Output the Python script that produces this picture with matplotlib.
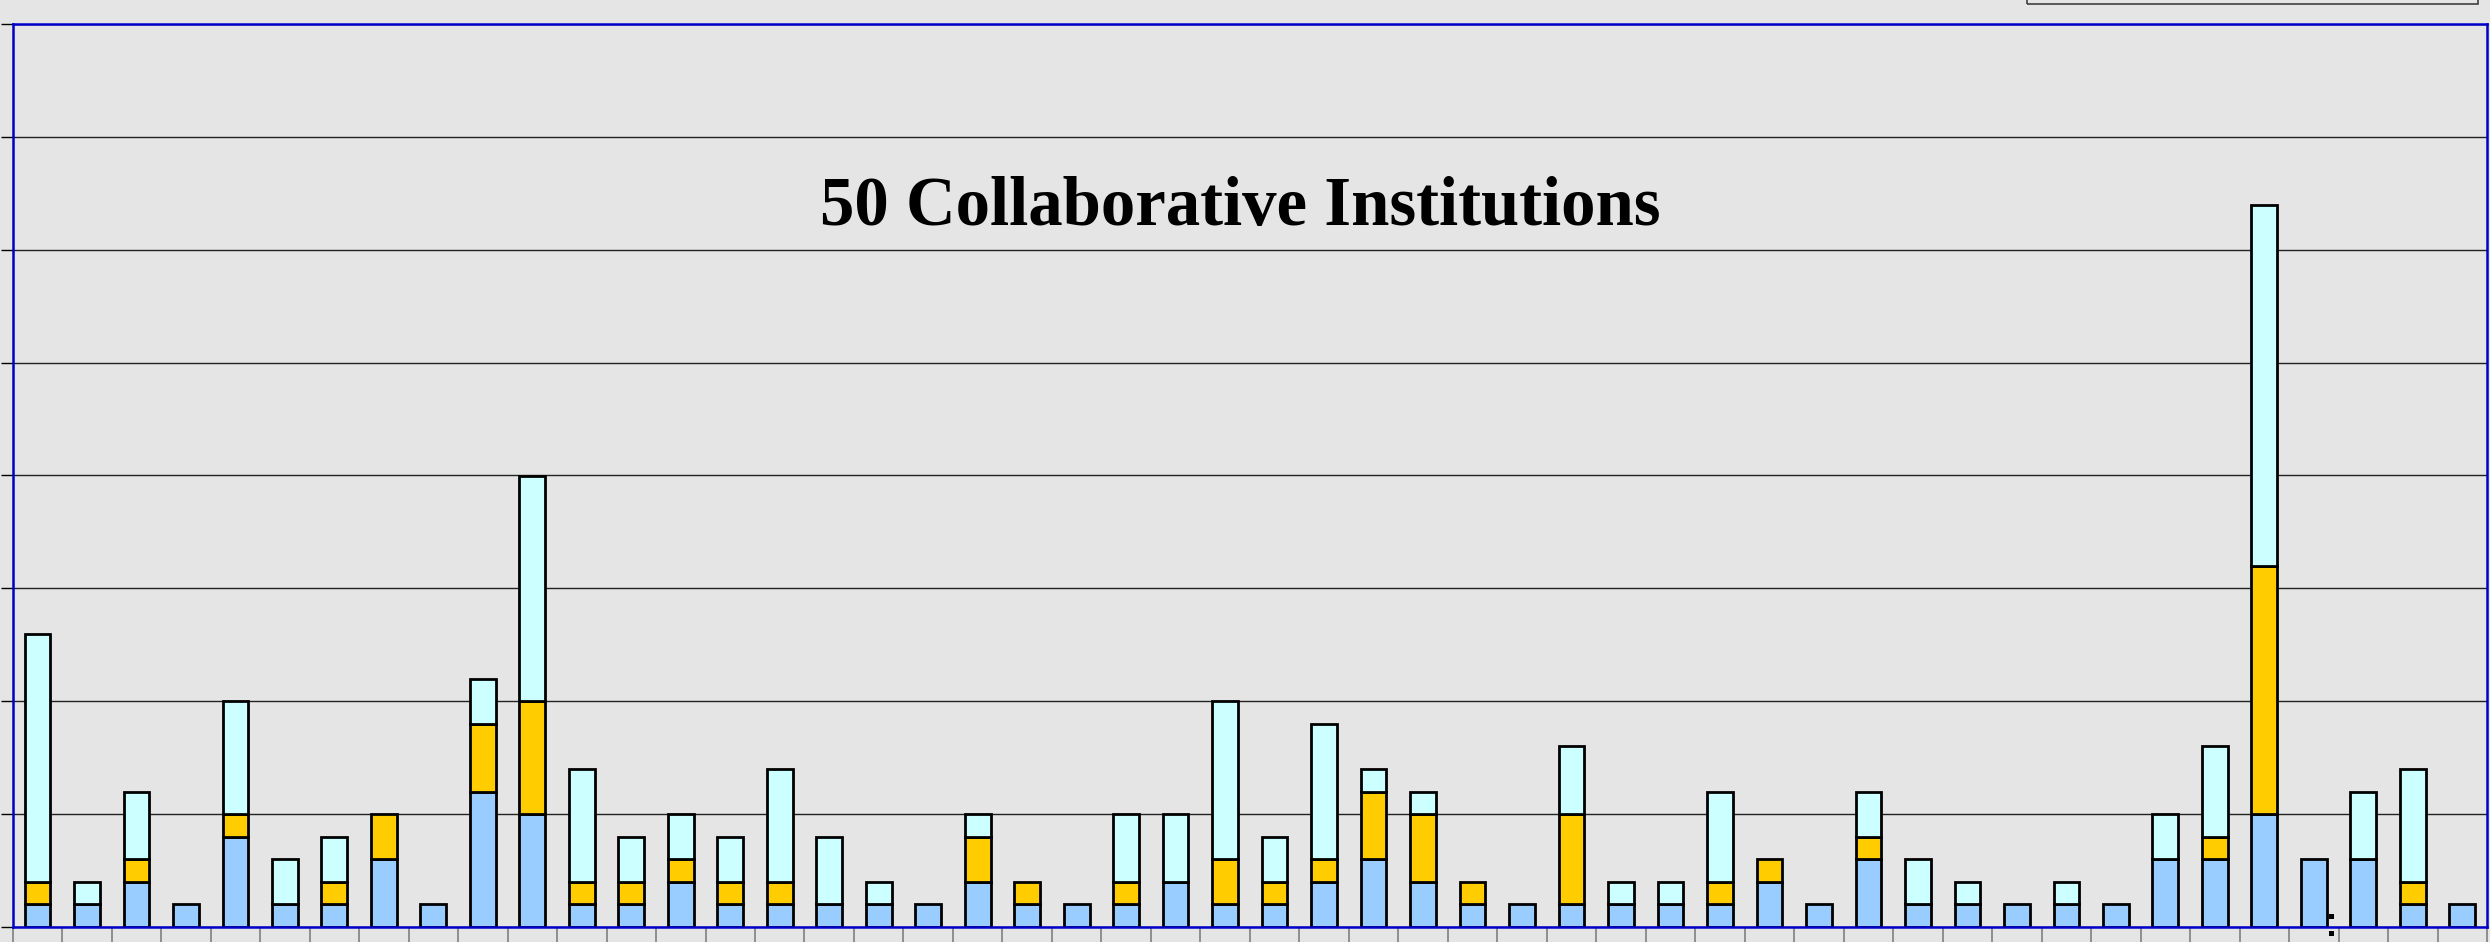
import numpy as np
import matplotlib
matplotlib.use("Agg")
import matplotlib.pyplot as plt
from matplotlib.patches import Rectangle

# number of people per institution, three stacked groups
institutions = [f"Inst {i}" for i in range(1, 51)]
blue = [1, 1, 2, 1, 4, 1, 1, 3, 1, 6, 5, 1, 1, 2, 1, 1, 1, 1, 1, 2, 1, 1,
        1, 2, 1, 1, 2, 3, 2, 1, 1, 1, 1, 1, 1, 2,
        1, 3, 1, 1, 1, 1, 1, 3, 3, 5, 3, 3, 1, 1]
yellow = [1, 0, 1, 0, 1, 0, 1, 2, 0, 3, 5, 1, 1, 1, 1, 1, 0, 0, 0, 2, 1, 0,
          1, 0, 2, 1, 1, 3, 3, 1, 0, 4, 0, 0, 1, 1,
          0, 1, 0, 0, 0, 0, 0, 0, 1, 11, 0, 0, 1, 0]
cyan = [11, 1, 3, 0, 5, 2, 2, 0, 0, 2, 10, 5, 2, 2, 2, 5, 3, 1, 0, 1, 0, 0,
        3, 3, 7, 2, 6, 1, 1, 0, 0, 3, 1, 1, 4, 0,
        0, 2, 2, 1, 0, 1, 0, 2, 4, 16, 0, 3, 5, 0]

W, H = 2490, 942
fig = plt.figure(figsize=(W / 100, H / 100), dpi=100, facecolor="#e5e5e5")
ax = fig.add_axes([12.7 / W, 15 / H, (2487 - 12.7) / W, (927 - 24) / H])
ax.set_facecolor("#e5e5e5")

x = np.arange(len(institutions))
series = [(np.array(blue), "#99ccff"), (np.array(yellow), "#ffcc00"), (np.array(cyan), "#ccffff")]
bottom = np.zeros(len(x))
for vals, col in series:
    m = vals > 0
    ax.bar(x[m], vals[m], bottom=bottom[m], width=0.52, color=col,
           edgecolor="black", linewidth=2.0, zorder=3)
    bottom += vals

ax.set_xlim(-0.5, len(x) - 0.5)
ax.set_ylim(0, 40)
ax.set_yticks(np.arange(0, 41, 5))
ax.set_yticklabels([])
ax.yaxis.grid(True, color="#222222", linewidth=1.0, zorder=0)
ax.set_xticks(np.arange(-0.5, len(x), 1.0))
ax.set_xticklabels([])
ax.tick_params(axis="x", direction="out", length=11, width=1.2, color="#808080")
ax.tick_params(axis="y", direction="out", length=9, width=1.0, color="black")

for s in ax.spines.values():
    s.set_color("#0000cc")
    s.set_linewidth(1.8)
    s.set_zorder(4)

fig.text(1240 / W, 1 - 225 / H, "50 Collaborative Institutions", ha="center", va="baseline",
         fontsize=49.5, fontweight="bold", family="Liberation Serif", color="black")

# edge of the legend box, mostly cut off at the top
fig.patches.append(Rectangle((2027 / W, 1 - 3.5 / H), (2478 - 2027) / W, 20 / H,
                             transform=fig.transFigure, fill=False,
                             edgecolor="#404040", linewidth=1.2))
# two little selection dots near the bottom
for yb in (23, 6):
    fig.patches.append(Rectangle((2329 / W, yb / H), 5 / W, 5 / H, transform=fig.transFigure,
                                 facecolor="black", edgecolor="none"))

fig.savefig("out.png", dpi=100, facecolor=fig.get_facecolor())
